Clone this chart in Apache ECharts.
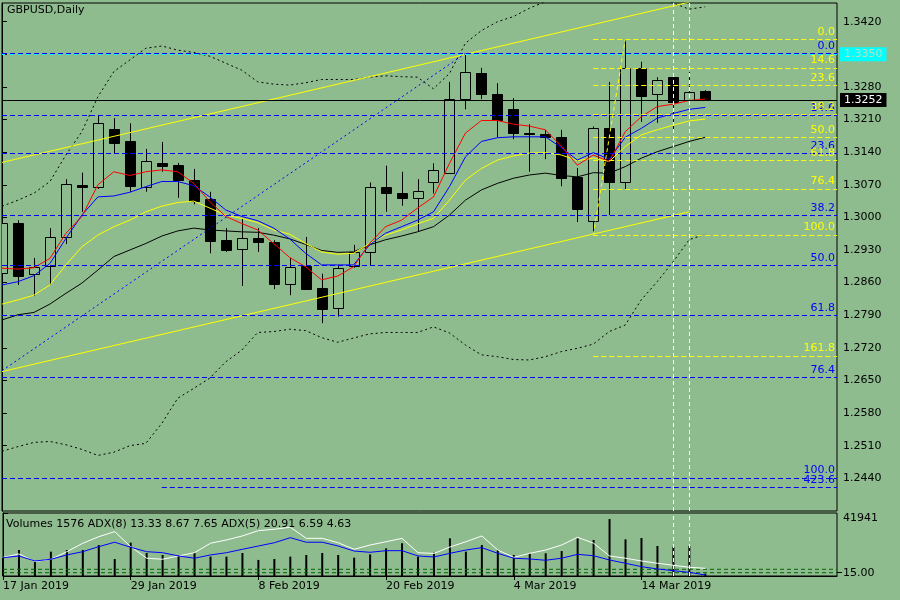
<!DOCTYPE html>
<html>
<head>
<meta charset="utf-8">
<script src="https://cdn.jsdelivr.net/npm/echarts@6/dist/echarts.min.js"></script>
<style>
  html, body { margin: 0; padding: 0; background: #8fbc8f; }
  #chart { width: 900px; height: 600px; }
</style>
</head>
<body>
<div id="chart"></div>
<script>
// GBPUSD daily, 17 Jan - 20 Mar 2019 (MT4 style screenshot)
const dates = ['17 Jan 2019','18 Jan 2019','21 Jan 2019','22 Jan 2019','23 Jan 2019','24 Jan 2019','25 Jan 2019','28 Jan 2019','29 Jan 2019','30 Jan 2019','31 Jan 2019',
  '1 Feb 2019','4 Feb 2019','5 Feb 2019','6 Feb 2019','7 Feb 2019','8 Feb 2019','11 Feb 2019','12 Feb 2019','13 Feb 2019','14 Feb 2019','15 Feb 2019',
  '18 Feb 2019','19 Feb 2019','20 Feb 2019','21 Feb 2019','22 Feb 2019','25 Feb 2019','26 Feb 2019','27 Feb 2019','28 Feb 2019',
  '1 Mar 2019','4 Mar 2019','5 Mar 2019','6 Mar 2019','7 Mar 2019','8 Mar 2019','11 Mar 2019','12 Mar 2019','13 Mar 2019','14 Mar 2019','15 Mar 2019',
  '18 Mar 2019','19 Mar 2019','20 Mar 2019'];

const open  = [1.2881,1.2988,1.2879,1.2896,1.2958,1.3070,1.3066,1.3190,1.3164,1.3066,1.3117,1.3113,1.3081,1.3039,1.2951,1.2933,1.2956,1.2947,1.2857,1.2896,1.2849,1.2806,1.2896,1.2926,1.3066,1.3053,1.3042,1.3075,1.3096,1.3254,1.3310,1.3265,1.3232,1.3181,1.3179,1.3172,1.3087,1.2993,1.3192,1.3077,1.3321,1.3265,1.3301,1.3252,1.3271];
const close = [1.2988,1.2874,1.2894,1.2958,1.3072,1.3066,1.3202,1.3160,1.3068,1.3120,1.3111,1.3081,1.3035,1.2949,1.2930,1.2955,1.2947,1.2857,1.2894,1.2847,1.2804,1.2892,1.2926,1.3066,1.3053,1.3042,1.3057,1.3101,1.3254,1.3312,1.3265,1.3209,1.3181,1.3180,1.3172,1.3084,1.3018,1.3192,1.3075,1.3321,1.3261,1.3295,1.3248,1.3269,1.3252];
const low   = [1.2875,1.2855,1.2831,1.2855,1.2943,1.3012,1.3061,1.3138,1.3055,1.3055,1.3098,1.3042,1.3028,1.2923,1.2926,1.2853,1.2926,1.2846,1.2833,1.2845,1.2773,1.2787,1.2892,1.2896,1.3012,1.3025,1.2969,1.3051,1.3096,1.3232,1.3254,1.3172,1.3168,1.3098,1.3125,1.3067,1.2990,1.2966,1.3005,1.3061,1.3205,1.3203,1.3183,1.3243,1.3250];
const high  = [1.2992,1.2994,1.2913,1.2977,1.3082,1.3096,1.3220,1.3213,1.3202,1.3147,1.3162,1.3117,1.3104,1.3055,1.2977,1.2998,1.2977,1.2951,1.2913,1.2958,1.2879,1.2898,1.2941,1.3075,1.3111,1.3098,1.3082,1.3116,1.3291,1.3351,1.3321,1.3288,1.3256,1.3200,1.3188,1.3188,1.3106,1.3195,1.3291,1.3383,1.3334,1.3301,1.3301,1.3312,1.3273];

// moving averages
const maRed    = [1.2891,1.2889,1.2892,1.2912,1.2966,1.3002,1.3070,1.3098,1.3090,1.3098,1.3102,1.3098,1.3073,1.3034,1.3002,1.2987,1.2973,1.2944,1.2914,1.2894,1.2866,1.2874,1.2894,1.2944,1.2980,1.2994,1.3020,1.3044,1.3116,1.3181,1.3208,1.3208,1.3200,1.3196,1.3188,1.3153,1.3112,1.3134,1.3120,1.3184,1.3216,1.3238,1.3243,1.3251,1.3254];
const maBlue   = [1.2855,1.2862,1.2875,1.2901,1.2955,1.3005,1.3044,1.3046,1.3054,1.3066,1.3077,1.3077,1.3068,1.3044,1.3016,1.3002,1.2993,1.2977,1.2954,1.2923,1.2898,1.2898,1.2898,1.2941,1.2966,1.2980,1.2994,1.3012,1.3066,1.3130,1.3163,1.3171,1.3173,1.3173,1.3173,1.3150,1.3123,1.3139,1.3125,1.3172,1.3191,1.3213,1.3223,1.3232,1.3236];
const maYellow = [1.2814,1.2823,1.2833,1.2855,1.2898,1.2937,1.2962,1.2980,1.2994,1.3012,1.3024,1.3032,1.3035,1.3020,1.3005,1.2998,1.2989,1.2973,1.2964,1.2944,1.2926,1.2921,1.2923,1.2944,1.2962,1.2973,1.2986,1.2998,1.3037,1.3080,1.3105,1.3123,1.3132,1.3138,1.3139,1.3134,1.3122,1.3127,1.3120,1.3152,1.3177,1.3188,1.3198,1.3207,1.3211];
const maBlack  = [1.2780,1.2791,1.2796,1.2814,1.2837,1.2859,1.2887,1.2916,1.2930,1.2944,1.2960,1.2971,1.2977,1.2973,1.2971,1.2969,1.2968,1.2962,1.2954,1.2942,1.2929,1.2925,1.2926,1.2941,1.2952,1.2960,1.2969,1.2980,1.3005,1.3037,1.3059,1.3073,1.3084,1.3091,1.3095,1.3090,1.3087,1.3096,1.3095,1.3109,1.3127,1.3141,1.3152,1.3163,1.3172];

// bollinger bands
const bbUpper = [1.3024,1.3037,1.3052,1.3077,1.3134,1.3184,1.3259,1.3313,1.3338,1.3363,1.3368,1.3359,1.3354,1.3346,1.3331,1.3316,1.3291,1.3286,1.3284,1.3289,1.3296,1.3296,1.3296,1.3301,1.3304,1.3302,1.3301,1.3276,1.3309,1.3374,1.3401,1.3420,1.3431,1.3449,1.3463,1.3480,1.3492,1.3499,1.3499,1.3492,1.3484,1.3473,1.3460,1.3447,1.3452];
const bbLower = [1.2498,1.2508,1.2517,1.2519,1.2512,1.2502,1.2489,1.2496,1.2510,1.2515,1.2558,1.2612,1.2633,1.2655,1.2690,1.2715,1.2753,1.2755,1.2760,1.2757,1.2742,1.2732,1.2741,1.2750,1.2753,1.2753,1.2753,1.2765,1.2752,1.2726,1.2705,1.2701,1.2695,1.2694,1.2701,1.2712,1.2719,1.2728,1.2755,1.2769,1.2823,1.2862,1.2905,1.2952,1.2964];

// sub window
const volumes = [12000,17300,10000,16200,17300,17300,20600,11300,22200,15300,14000,14000,15300,12900,12900,15300,10700,11300,12900,14000,15300,14000,12200,14400,18400,21800,12900,15500,25100,16200,20600,17300,14000,15100,15100,16600,25100,24000,37900,24400,25300,20000,19500,20000,1576];
const adxWhite = [14.8,17.5,11.4,13.3,19.3,26.0,31.2,35.2,23.3,14.1,13.3,15.9,18.5,26.0,28.6,31.8,36.0,37.1,38.7,29.9,29.9,26.4,21.2,24.6,27.2,29.9,18.5,17.9,23.0,27.2,31.8,20.6,14.8,18.0,20.6,24.6,30.7,26.0,15.9,14.1,11.9,10.1,8.5,6.9,6.1];
const adxBlue  = [14.5,15.9,11.9,13.3,16.7,19.3,23.3,26.8,22.8,19.3,18.5,15.9,14.1,16.7,18.5,21.2,23.8,26.4,30.4,26.8,26.8,23.8,19.8,18.8,20.1,20.1,15.9,15.1,18.0,20.6,22.5,18.0,14.1,13.5,12.5,14.1,17.2,16.1,12.7,10.1,7.4,5.6,4.2,2.9,0.8];
const adxLevels = [20, 15];
const adx8Readout = ['13.33', '8.67', '7.65'];
const adx5Readout = ['20.91', '6.59', '4.63'];
const volumeMax = 41941;

// price axis ticks
const priceTicks = [1.3420,1.3350,1.3280,1.3210,1.3140,1.3070,1.3000,1.2930,1.2860,1.2790,1.2720,1.2650,1.2580,1.2510,1.2440];
const priceLabels = priceTicks.filter(v => v !== 1.3350);
const dateTicks = [0, 8, 16, 24, 32, 40];

// drawn objects
const bidPrice = 1.3252;
const alertPrice = 1.3350;
const yellowFibLevels = [0, 14.6, 23.6, 38.2, 50, 61.8, 76.4, 100, 161.8];
const yellowFibHigh = 1.3382, yellowFibLow = 1.2962;
const yellowFibFrom = 37, yellowFibTo = 39;
const blueFibLevels = [0, 14.6, 23.6, 38.2, 50, 61.8, 76.4, 100];
const blueFibHigh = 1.3352, blueFibLow = 1.2441;
const blueFibFrom = 0, blueFibTo = 29, blueFibStartPrice = 1.2671;
const extLevel = 423.6, extPrice = 1.2421, extFrom = 10;
const channelUpper = [[0, 1.3118], [43, 1.3462]];
const channelLower = [[0, 1.2669], [43, 1.3012]];
const vLines = [42, 43];

const BG = '#8fbc8f';
const FONT = 'DejaVu Sans';
const X_MAX = 52.25;

const chart = echarts.init(document.getElementById('chart'));

function pairs(arr) { return arr.map((v, i) => [i, v]); }

// one horizontal segment from x = from to the right edge
function hSeg(price, from, lineStyle, label) {
  return [
    { coord: [from, price], lineStyle: lineStyle, label: label },
    { coord: [X_MAX, price] }
  ];
}

function fibLine(level, hi, lo, from, color) {
  const p = hi - level / 100 * (hi - lo);
  return hSeg(p, from, { color: color, type: [5, 3], width: 1 },
    { show: true, position: 'insideEndTop', distance: 2, formatter: level.toFixed(1), color: color, fontFamily: FONT, fontSize: 11 });
}

function priceBox(price, bg, fg) {
  return { show: true, position: 'end', distance: 3, formatter: price.toFixed(4), color: fg,
    backgroundColor: bg, padding: [1, 4, 0, 4], lineHeight: 13, fontFamily: FONT, fontSize: 11 };
}

function renderCandle(params, api) {
  const k = api.value(0);
  const o = api.value(1), c = api.value(2), l = api.value(3), h = api.value(4);
  const pO = api.coord([k, o]), pC = api.coord([k, c]);
  const pL = api.coord([k, l]), pH = api.coord([k, h]);
  const w = Math.round(api.size([1, 0])[0] * 0.62);
  const x = Math.round(pO[0]) + 0.5;
  const top = Math.round(Math.min(pO[1], pC[1])) + 0.5;
  const bot = Math.round(Math.max(pO[1], pC[1])) + 0.5;
  const bear = c < o;
  return {
    type: 'group',
    children: [
      { type: 'line', shape: { x1: x, y1: pH[1], x2: x, y2: pL[1] }, style: { stroke: '#000', lineWidth: 1 } },
      { type: 'rect', shape: { x: x - w / 2, y: top, width: w, height: Math.max(bot - top, 1) },
        style: { fill: bear ? '#000' : BG, stroke: '#000', lineWidth: 1 } }
    ]
  };
}

const lineBase = { type: 'line', showSymbol: false, symbol: 'none', clip: true, silent: true, animation: false, xAxisIndex: 0, yAxisIndex: 0 };
const vLineMark = {
  symbol: ['none', 'none'], silent: true, animation: false,
  lineStyle: { color: '#fff', type: [4, 3], width: 1 },
  label: { show: false },
  data: vLines.map(v => ({ xAxis: v }))
};

const option = {
  backgroundColor: BG,
  animation: false,
  textStyle: { fontFamily: FONT },
  grid: [
    { left: 2, top: 3, right: 63, height: 508, show: true, borderColor: '#000', borderWidth: 1, backgroundColor: 'transparent' },
    { left: 2, top: 513, right: 63, height: 63, show: true, borderColor: '#000', borderWidth: 1, backgroundColor: 'transparent' }
  ],
  xAxis: [
    { type: 'value', gridIndex: 0, min: 0, max: X_MAX, show: false },
    { type: 'value', gridIndex: 1, min: 0, max: X_MAX, interval: 8,
      axisLine: { show: true, lineStyle: { color: '#000' } },
      axisTick: { show: true, length: 4, lineStyle: { color: '#000' }, customValues: dateTicks },
      axisLabel: { show: true, customValues: dateTicks, color: '#000', fontFamily: FONT, fontSize: 11, align: 'left', margin: 5,
        formatter: v => dates[Math.round(v)] || '' },
      splitLine: { show: false } }
  ],
  yAxis: [
    { type: 'value', gridIndex: 0, position: 'right', min: 1.23698, max: 1.34602,
      axisLine: { show: true, lineStyle: { color: '#000' } },
      axisTick: { show: true, length: 5, lineStyle: { color: '#000' }, customValues: priceTicks },
      axisLabel: { show: true, customValues: priceLabels, color: '#000', fontFamily: FONT, fontSize: 11, margin: 6,
        formatter: v => v.toFixed(4) },
      splitLine: { show: false } },
    { type: 'value', gridIndex: 1, position: 'right', min: 0, max: volumeMax,
      axisLine: { show: true, lineStyle: { color: '#000' } },
      axisTick: { show: true, length: 5, lineStyle: { color: '#000' }, customValues: [volumeMax] },
      axisLabel: { show: true, customValues: [volumeMax], color: '#000', fontFamily: FONT, fontSize: 11, margin: 6,
        verticalAlign: 'top', formatter: v => String(Math.round(v)) },
      splitLine: { show: false } },
    { type: 'value', gridIndex: 1, position: 'right', min: 10.15, max: 102.8,
      axisLine: { show: false },
      axisTick: { show: true, length: 5, lineStyle: { color: '#000' }, customValues: adxLevels },
      axisLabel: { show: true, customValues: adxLevels, color: '#000', fontFamily: FONT, fontSize: 11, margin: 6,
        formatter: v => v.toFixed(2) },
      splitLine: { show: false } },
    { type: 'value', gridIndex: 1, min: 0, max: 50, show: false, splitLine: { show: false } }
  ],
  graphic: [
    { type: 'text', left: 7, top: 5, silent: true,
      style: { text: 'GBPUSD,Daily', fill: '#000', font: '11px "DejaVu Sans"' } },
    { type: 'text', left: 6, top: 519, silent: true, z: 100,
      style: { text: 'Volumes ' + volumes[volumes.length - 1] + ' ADX(8) ' + adx8Readout.join(' ') + ' ADX(5) ' + adx5Readout.join(' '),
        fill: '#000', font: '11px "DejaVu Sans"' } }
  ],
  series: [
    // candles
    { type: 'custom', xAxisIndex: 0, yAxisIndex: 0, clip: true, silent: true, z: 2,
      renderItem: renderCandle,
      encode: { x: 0, y: [1, 2, 3, 4] },
      data: dates.map((d, i) => [i, open[i], close[i], low[i], high[i]]) },
    // bollinger bands
    Object.assign({}, lineBase, { z: 3, data: pairs(bbUpper), lineStyle: { color: '#000', width: 1, type: [2, 3] },
      markLine: vLineMark }),
    Object.assign({}, lineBase, { z: 3, data: pairs(bbLower), lineStyle: { color: '#000', width: 1, type: [2, 3] } }),
    // moving averages
    Object.assign({}, lineBase, { z: 4, data: pairs(maBlack), lineStyle: { color: '#000', width: 1 } }),
    Object.assign({}, lineBase, { z: 4, data: pairs(maYellow), lineStyle: { color: '#ffff00', width: 1 } }),
    Object.assign({}, lineBase, { z: 4, data: pairs(maBlue), lineStyle: { color: '#0000ff', width: 1 } }),
    Object.assign({}, lineBase, { z: 4, data: pairs(maRed), lineStyle: { color: '#ff0000', width: 1 } }),
    // channel
    Object.assign({}, lineBase, { z: 4, data: channelUpper, lineStyle: { color: '#ffff00', width: 1 } }),
    Object.assign({}, lineBase, { z: 4, data: channelLower, lineStyle: { color: '#ffff00', width: 1 },
      markLine: {
        symbol: ['none', 'none'], silent: true, animation: false,
        data: [
          hSeg(alertPrice, 0, { color: '#00ffff', type: [3, 5], width: 1 }, priceBox(alertPrice, '#00ffff', '#c0dcc0')),
          hSeg(bidPrice, 0, { color: '#000', type: 'solid', width: 1 }, priceBox(bidPrice, '#000', '#fff'))
        ]
      } }),
    // blue fibonacci
    Object.assign({}, lineBase, { z: 4,
      data: [[blueFibFrom, blueFibStartPrice], [blueFibTo, blueFibHigh]],
      lineStyle: { color: '#0000ff', width: 1, type: [2, 3] },
      markLine: {
        symbol: ['none', 'none'], silent: true, animation: false,
        data: blueFibLevels.map(l => fibLine(l, blueFibHigh, blueFibLow, 0, '#0000ff')).concat([
          hSeg(extPrice, extFrom, { color: '#0000ff', type: [5, 3], width: 1 },
            { show: true, position: 'insideEndTop', distance: 2, formatter: extLevel.toFixed(1), color: '#0000ff', fontFamily: FONT, fontSize: 11 })
        ])
      } }),
    // yellow fibonacci
    Object.assign({}, lineBase, { z: 5,
      data: [[yellowFibFrom, yellowFibLow], [yellowFibTo, yellowFibHigh]],
      lineStyle: { color: '#ffff00', width: 1, type: [4, 3] },
      markLine: {
        symbol: ['none', 'none'], silent: true, animation: false,
        data: yellowFibLevels.map(l => fibLine(l, yellowFibHigh, yellowFibLow, yellowFibFrom, '#ffff00'))
      } }),
    // sub window: volumes
    { type: 'bar', xAxisIndex: 1, yAxisIndex: 1, barWidth: 2, silent: true, animation: false, z: 2,
      itemStyle: { color: '#000' }, data: pairs(volumes), markLine: vLineMark },
    // adx levels
    ...adxLevels.map(v => Object.assign({}, lineBase, { xAxisIndex: 1, yAxisIndex: 2, z: 3,
      data: [[0, v], [X_MAX, v]], lineStyle: { color: '#006400', width: 1, type: [4, 3] } })),
    // adx lines
    Object.assign({}, lineBase, { xAxisIndex: 1, yAxisIndex: 3, z: 4, data: pairs(adxWhite), lineStyle: { color: '#ffffff', width: 1 } }),
    Object.assign({}, lineBase, { xAxisIndex: 1, yAxisIndex: 3, z: 4, data: pairs(adxBlue), lineStyle: { color: '#0000ff', width: 1 } })
  ]
};

chart.setOption(option);
</script>
</body>
</html>
